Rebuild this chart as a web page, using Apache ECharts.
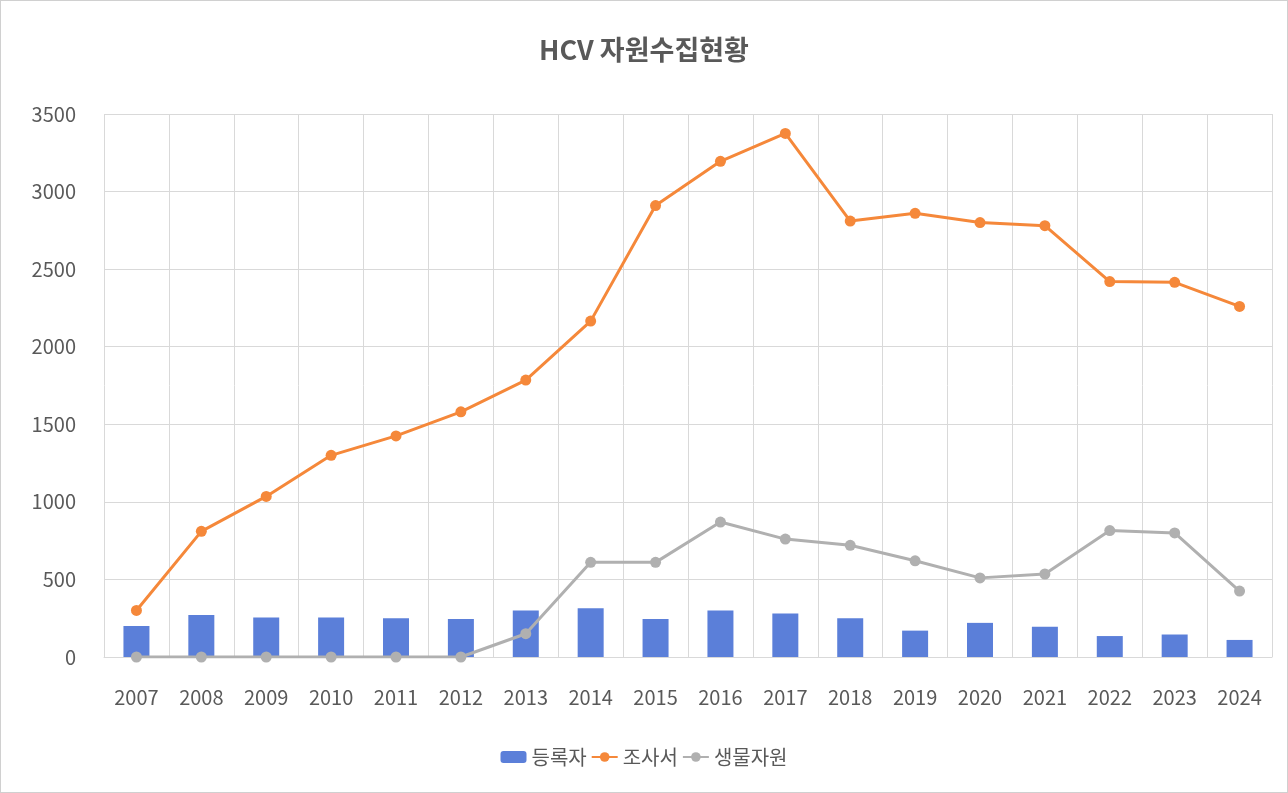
<!DOCTYPE html>
<html><head><meta charset="utf-8">
<script src="https://cdn.jsdelivr.net/npm/echarts@6/dist/echarts.min.js"></script>
<style>html,body{margin:0;padding:0;background:#fff}#c{width:1286px;height:791px;border:1px solid #d0d0d0}</style>
</head><body><div id="c"></div>
<script>
const years=['2007','2008','2009','2010','2011','2012','2013','2014','2015','2016','2017','2018','2019','2020','2021','2022','2023','2024'];
const registrants=[200,270,255,255,250,245,300,315,245,300,280,250,170,220,195,135,145,110];
const surveys=[300,810,1035,1300,1425,1580,1785,2165,2910,3195,3375,2810,2860,2800,2780,2420,2415,2260];
const bio=[0,0,0,0,0,0,150,610,610,870,760,720,620,510,535,815,800,425];
const font='"Noto Sans CJK KR","Noto Sans",sans-serif';
const chart=echarts.init(document.getElementById('c'));
chart.setOption({
  animation:false,
  textStyle:{fontFamily:font},
  title:{text:'HCV 자원수집현황',left:'center',top:30,textStyle:{fontSize:27,fontWeight:'bold',color:'#595959',fontFamily:font}},
  legend:{bottom:20,itemGap:4,itemWidth:26,itemHeight:12,textStyle:{fontSize:20,color:'#595959'},
    data:['등록자','조사서','생물자원']},
  grid:{left:103,right:15,top:113,bottom:135,containLabel:false},
  xAxis:{type:'category',data:years,boundaryGap:true,
    axisLine:{lineStyle:{color:'#d9d9d9'}},axisTick:{show:false},
    axisLabel:{fontSize:20,color:'#595959',margin:30},
    splitLine:{show:true,interval:0,lineStyle:{color:'#d9d9d9'}}},
  yAxis:{type:'value',min:0,max:3500,interval:500,
    axisLabel:{fontSize:20,color:'#595959',margin:28,formatter:v=>String(v)},
    axisLine:{show:false},splitLine:{lineStyle:{color:'#d9d9d9'}}},
  series:[
    {name:'등록자',type:'bar',data:registrants,barWidth:26,itemStyle:{color:'#5b7fd9'}},
    {name:'조사서',type:'line',data:surveys,symbol:'circle',symbolSize:11,lineStyle:{width:3,color:'#f5883a'},itemStyle:{color:'#f5883a'}},
    {name:'생물자원',type:'line',data:bio,symbol:'circle',symbolSize:11,lineStyle:{width:3,color:'#b0b0b0'},itemStyle:{color:'#b0b0b0'}}
  ]
});
</script></body></html>
